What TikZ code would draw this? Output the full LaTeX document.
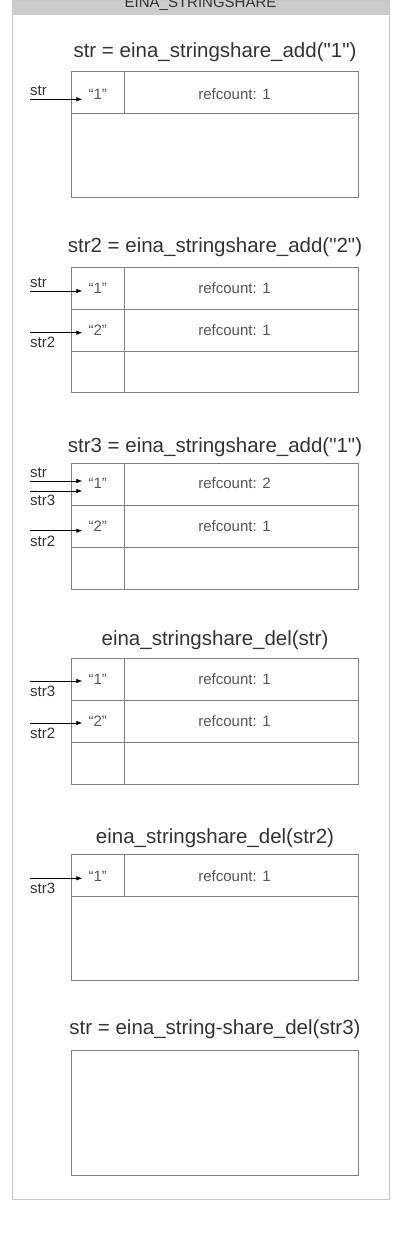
\documentclass[tikz,border=0pt]{standalone}
\usepackage{fontspec}
\setmainfont{Liberation Sans}[Ligatures=TeXOff]
\usetikzlibrary{arrows.meta,positioning}
\definecolor{framegray}{HTML}{C8C8C8}
\definecolor{headgray}{HTML}{CCCCCC}
\definecolor{linegray}{HTML}{808080}
\definecolor{valgray}{HTML}{555555}
\definecolor{inkgray}{HTML}{333333}

\begin{document}
\begin{tikzpicture}[x=1pt, y=-1pt,
    title/.style={anchor=base, inner sep=0pt, text=inkgray, font=\fontsize{20.5}{24}\selectfont},
    lbl/.style={anchor=base west, inner sep=0pt, text=inkgray, font=\fontsize{15}{18}\selectfont},
    val/.style={anchor=base, inner xsep=6pt, text=valgray, font=\fontsize{15}{18}\selectfont},
    cell/.style={draw=linegray, line width=0.8pt},
    ptr/.style={-{Latex[length=6pt,width=4.5pt]}, line width=0.7pt}]
    \useasboundingbox (0,0) rectangle (400,1235);

    \fill[headgray] (12,0) rectangle (389,14.7);
    \draw[framegray, line width=0.8pt] (12,0) rectangle (389,1199.3);
    \node[title, font=\fontsize{15}{18}\selectfont] (head) at (200.5,7.8) {EINA\_STRINGSHARE};

    % str = add("1")
    \node[title] (t1) at (215,57) {str = eina\_stringshare\_add("1")};
    \draw[cell] (71,71) rectangle (358.7,197.3);
    \draw[cell] (71,113.3) -- (358.7,113.3) (124.3,71) -- (124.3,113.3);
    \node[val] (a1) at (97.7,99.5) {“1”};
    \node[val] (r1) at (234.5,99.5) {refcount: 1};
    \coordinate (p1) at (30,99.3);
    \draw[ptr] (p1) -- (p1 -| a1.base west);
    \node[lbl] (n1) at ([yshift=3.5pt]p1) {str};

    % str2 = add("2")
    \node[title] (t2) at (215,252) {str2 = eina\_stringshare\_add("2")};
    \draw[cell] (71,267.5) rectangle (358.7,392.7);
    \draw[cell] (71,309) -- (358.7,309) (71,351) -- (358.7,351) (124.3,267.5) -- (124.3,392.7);
    \node[val] (a2) at (97.7,293) {“1”};
    \node[val] (r2) at (234.5,293) {refcount: 1};
    \node[val] (b2) at (97.7,335) {“2”};
    \node[val] (s2) at (234.5,335) {refcount: 1};
    \coordinate (p2) at (30,291);
    \coordinate (q2) at (30,332.7);
    \draw[ptr] (p2) -- (p2 -| a2.base west);
    \draw[ptr] (q2) -- (q2 -| b2.base west);
    \node[lbl] (n2) at ([yshift=3.5pt]p2) {str};
    \node[lbl] (m2) at ([yshift=-15pt]q2) {str2};

    % str3 = add("1")
    \node[title] (t3) at (215,452) {str3 = eina\_stringshare\_add("1")};
    \draw[cell] (71,463.3) rectangle (358.7,589);
    \draw[cell] (71,505.3) -- (358.7,505.3) (71,547.3) -- (358.7,547.3) (124.3,463.3) -- (124.3,589);
    \node[val] (a3) at (97.7,488) {“1”};
    \node[val] (r3) at (234.5,488) {refcount: 2};
    \node[val] (b3) at (97.7,531) {“2”};
    \node[val] (s3) at (234.5,531) {refcount: 1};
    \coordinate (p3) at (30,481);
    \coordinate (o3) at (30,491);
    \coordinate (q3) at (30,530.7);
    \draw[ptr] (p3) -- (p3 -| a3.base west);
    \draw[ptr] (o3) -- (o3 -| a3.base west);
    \draw[ptr] (q3) -- (q3 -| b3.base west);
    \node[lbl] (n3) at ([yshift=3.5pt]p3) {str};
    \node[lbl] (k3) at ([yshift=-14.5pt]o3) {str3};
    \node[lbl] (m3) at ([yshift=-15.5pt]q3) {str2};

    % del(str)
    \node[title] (t4) at (215,645.7) {eina\_stringshare\_del(str)};
    \draw[cell] (71,658.7) rectangle (358.7,784.3);
    \draw[cell] (71,700.3) -- (358.7,700.3) (71,742.3) -- (358.7,742.3) (124.3,658.7) -- (124.3,784.3);
    \node[val] (a4) at (97.7,684) {“1”};
    \node[val] (r4) at (234.5,684) {refcount: 1};
    \node[val] (b4) at (97.7,726) {“2”};
    \node[val] (s4) at (234.5,726) {refcount: 1};
    \coordinate (o4) at (30,681);
    \coordinate (q4) at (30,723);
    \draw[ptr] (o4) -- (o4 -| a4.base west);
    \draw[ptr] (q4) -- (q4 -| b4.base west);
    \node[lbl] (k4) at ([yshift=-15pt]o4) {str3};
    \node[lbl] (m4) at ([yshift=-15pt]q4) {str2};

    % del(str2)
    \node[title] (t5) at (215,843.3) {eina\_stringshare\_del(str2)};
    \draw[cell] (71,854) rectangle (358.7,980);
    \draw[cell] (71,896.3) -- (358.7,896.3) (124.3,854) -- (124.3,896.3);
    \node[val] (a5) at (97.7,881) {“1”};
    \node[val] (r5) at (234.5,881) {refcount: 1};
    \coordinate (o5) at (30,878.3);
    \draw[ptr] (o5) -- (o5 -| a5.base west);
    \node[lbl] (k5) at ([yshift=-15pt]o5) {str3};

    % del(str3)
    \node[title] (t6) at (215,1034.3) {str = eina\_string-share\_del(str3)};
    \draw[cell] (71,1050) rectangle (358.7,1175.7);
\end{tikzpicture}
\end{document}
